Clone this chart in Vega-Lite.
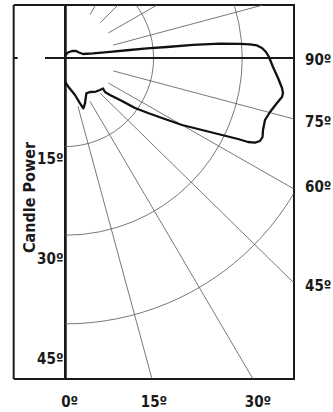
{
  "$schema": "https://vega.github.io/schema/vega-lite/v6.json",
  "width": 229,
  "height": 374,
  "autosize": {"type": "none"},
  "padding": {"left": 65, "top": 5, "right": 39, "bottom": 33},
  "background": "white",
  "config": {
    "view": {"stroke": "#1a1a1a", "strokeWidth": 2},
    "font": "DejaVu Sans Condensed, Liberation Sans, sans-serif",
    "text": {"font": "DejaVu Sans Condensed, Liberation Sans, sans-serif", "fontWeight": "bold", "fontSize": 15, "color": "#1a1a1a"}
  },
  "encoding": {
    "x": {"field": "x", "type": "quantitative", "scale": {"domain": [0, 34.35], "nice": false, "zero": false}, "axis": null},
    "y": {
      "field": "y", "type": "quantitative",
      "scale": {"domain": [-48.15, 7.95], "nice": false, "zero": false},
      "axis": {
        "values": [-15, -30, -45],
        "labelExpr": "abs(datum.value) + 'º'",
        "labelFont": "DejaVu Sans Condensed, Liberation Sans, sans-serif",
        "labelFontWeight": "bold",
        "labelFontSize": 15,
        "labelColor": "#1a1a1a",
        "labelPadding": 2,
        "labelBaseline": "middle",
        "ticks": false,
        "grid": false,
        "domain": true,
        "domainColor": "#1a1a1a",
        "domainWidth": 2.5,
        "title": "Candle Power",
        "titleFont": "DejaVu Sans Condensed, Liberation Sans, sans-serif",
        "titleFontWeight": "bold",
        "titleFontSize": 16,
        "titleColor": "#1a1a1a",
        "titleAngle": 270,
        "titleAlign": "center",
        "titleBaseline": "alphabetic",
        "titleX": -31,
        "titleY": 192
      }
    }
  },
  "layer": [
    {
      "data": {"values": [
        {"ring": 15, "x": 0, "y": 0},
        {"ring": 30, "x": 0, "y": 0},
        {"ring": 45, "x": 0, "y": 0}
      ]},
      "mark": {"type": "point", "shape": "circle", "filled": false, "clip": true, "stroke": "#555", "strokeWidth": 0.8, "opacity": 1},
      "encoding": {
        "size": {"field": "ring", "type": "quantitative", "scale": {"type": "pow", "exponent": 2, "domain": [0, 45], "range": [0, 282743]}, "legend": null}
      }
    },
    {
      "data": {"values": [
        {"angle": 15, "x": 1.94, "y": -7.24, "x2": 13.05, "y2": -48.15},
        {"angle": 30, "x": 3.75, "y": -6.5, "x2": 28.2, "y2": -48.15},
        {"angle": 45, "x": 5.3, "y": -5.3, "x2": 34.35, "y2": -33.75},
        {"angle": 60, "x": 6.5, "y": -3.75, "x2": 34.35, "y2": -19.65},
        {"angle": 75, "x": 7.24, "y": -1.94, "x2": 34.35, "y2": -9.15},
        {"angle": 105, "x": 7.24, "y": 1.94, "x2": 29.7, "y2": 7.95},
        {"angle": 120, "x": 6.5, "y": 3.75, "x2": 13.8, "y2": 7.95},
        {"angle": 135, "x": 5.3, "y": 5.3, "x2": 7.95, "y2": 7.95},
        {"angle": 150, "x": 3.75, "y": 6.5, "x2": 4.59, "y2": 7.95}
      ]},
      "mark": {"type": "rule", "clip": true, "stroke": "#555", "strokeWidth": 0.8},
      "encoding": {
        "x2": {"field": "x2"},
        "y2": {"field": "y2"}
      }
    },
    {
      "data": {"values": [
        {"part": "left frame", "x": -7.7, "y": -48.15, "x2": -7.7, "y2": 7.95},
        {"part": "top frame", "x": -7.7, "y": 7.95, "x2": 0, "y2": 7.95},
        {"part": "bottom frame", "x": -7.7, "y": -48.15, "x2": 0, "y2": -48.15},
        {"part": "tick", "x": -7.7, "y": 0, "x2": -7.1, "y2": 0},
        {"part": "90 line", "x": -3.0, "y": 0, "x2": 34.35, "y2": 0}
      ]},
      "mark": {"type": "rule", "clip": false, "stroke": "#1a1a1a", "strokeWidth": 2},
      "encoding": {
        "x2": {"field": "x2"},
        "y2": {"field": "y2"}
      }
    },
    {
      "data": {"values": [
        {"i": 1, "x": 0, "y": 0.375},
        {"i": 2, "x": 0.45, "y": 0.83},
        {"i": 3, "x": 1.05, "y": 1.05},
        {"i": 4, "x": 1.65, "y": 1.05},
        {"i": 5, "x": 2.1, "y": 0.83},
        {"i": 6, "x": 2.7, "y": 0.6},
        {"i": 7, "x": 4.2, "y": 0.7},
        {"i": 8, "x": 6.75, "y": 0.93},
        {"i": 9, "x": 9.3, "y": 1.16},
        {"i": 10, "x": 12.3, "y": 1.43},
        {"i": 11, "x": 15.3, "y": 1.65},
        {"i": 12, "x": 19.2, "y": 1.98},
        {"i": 13, "x": 23.25, "y": 2.15},
        {"i": 14, "x": 26.25, "y": 2.13},
        {"i": 15, "x": 27.75, "y": 2.03},
        {"i": 16, "x": 28.8, "y": 1.88},
        {"i": 17, "x": 29.55, "y": 1.5},
        {"i": 18, "x": 30.15, "y": 0.9},
        {"i": 19, "x": 30.6, "y": 0.15},
        {"i": 20, "x": 31.2, "y": -1.35},
        {"i": 21, "x": 31.95, "y": -3.0},
        {"i": 22, "x": 32.55, "y": -4.5},
        {"i": 23, "x": 32.7, "y": -5.25},
        {"i": 24, "x": 32.55, "y": -5.85},
        {"i": 25, "x": 31.8, "y": -6.75},
        {"i": 26, "x": 30.75, "y": -8.1},
        {"i": 27, "x": 30.0, "y": -9.3},
        {"i": 28, "x": 29.7, "y": -10.8},
        {"i": 29, "x": 29.63, "y": -11.85},
        {"i": 30, "x": 29.25, "y": -12.45},
        {"i": 31, "x": 28.5, "y": -12.68},
        {"i": 32, "x": 27.45, "y": -12.6},
        {"i": 33, "x": 25.95, "y": -12.15},
        {"i": 34, "x": 23.55, "y": -11.55},
        {"i": 35, "x": 20.55, "y": -10.8},
        {"i": 36, "x": 17.55, "y": -10.05},
        {"i": 37, "x": 14.55, "y": -9.0},
        {"i": 38, "x": 12.45, "y": -8.25},
        {"i": 39, "x": 10.5, "y": -7.5},
        {"i": 40, "x": 8.55, "y": -6.45},
        {"i": 41, "x": 6.75, "y": -5.55},
        {"i": 42, "x": 6.0, "y": -5.1},
        {"i": 43, "x": 5.7, "y": -4.58},
        {"i": 44, "x": 5.25, "y": -4.8},
        {"i": 45, "x": 4.65, "y": -5.03},
        {"i": 46, "x": 3.75, "y": -5.1},
        {"i": 47, "x": 3.2, "y": -5.3},
        {"i": 48, "x": 3.0, "y": -6.8},
        {"i": 49, "x": 2.75, "y": -7.55},
        {"i": 50, "x": 2.25, "y": -6.8},
        {"i": 51, "x": 1.5, "y": -5.55},
        {"i": 52, "x": 0.5, "y": -4.3},
        {"i": 53, "x": 0, "y": -3.55}
      ]},
      "mark": {"type": "line", "stroke": "#111", "strokeWidth": 2.3, "strokeJoin": "round", "clip": true},
      "encoding": {
        "order": {"field": "i", "type": "quantitative"}
      }
    },
    {
      "data": {"values": [
        {"label": "0º", "x": 0.7, "y": -51.6},
        {"label": "15º", "x": 13.35, "y": -51.6},
        {"label": "30º", "x": 28.95, "y": -51.6}
      ]},
      "mark": {"type": "text", "align": "center", "baseline": "middle"},
      "encoding": {"text": {"field": "label"}}
    },
    {
      "data": {"values": [
        {"label": "90º", "x": 36.0, "y": -0.3},
        {"label": "75º", "x": 36.0, "y": -9.6},
        {"label": "60º", "x": 36.0, "y": -19.35},
        {"label": "45º", "x": 36.0, "y": -34.2}
      ]},
      "mark": {"type": "text", "align": "left", "baseline": "middle"},
      "encoding": {"text": {"field": "label"}}
    }
  ]
}
